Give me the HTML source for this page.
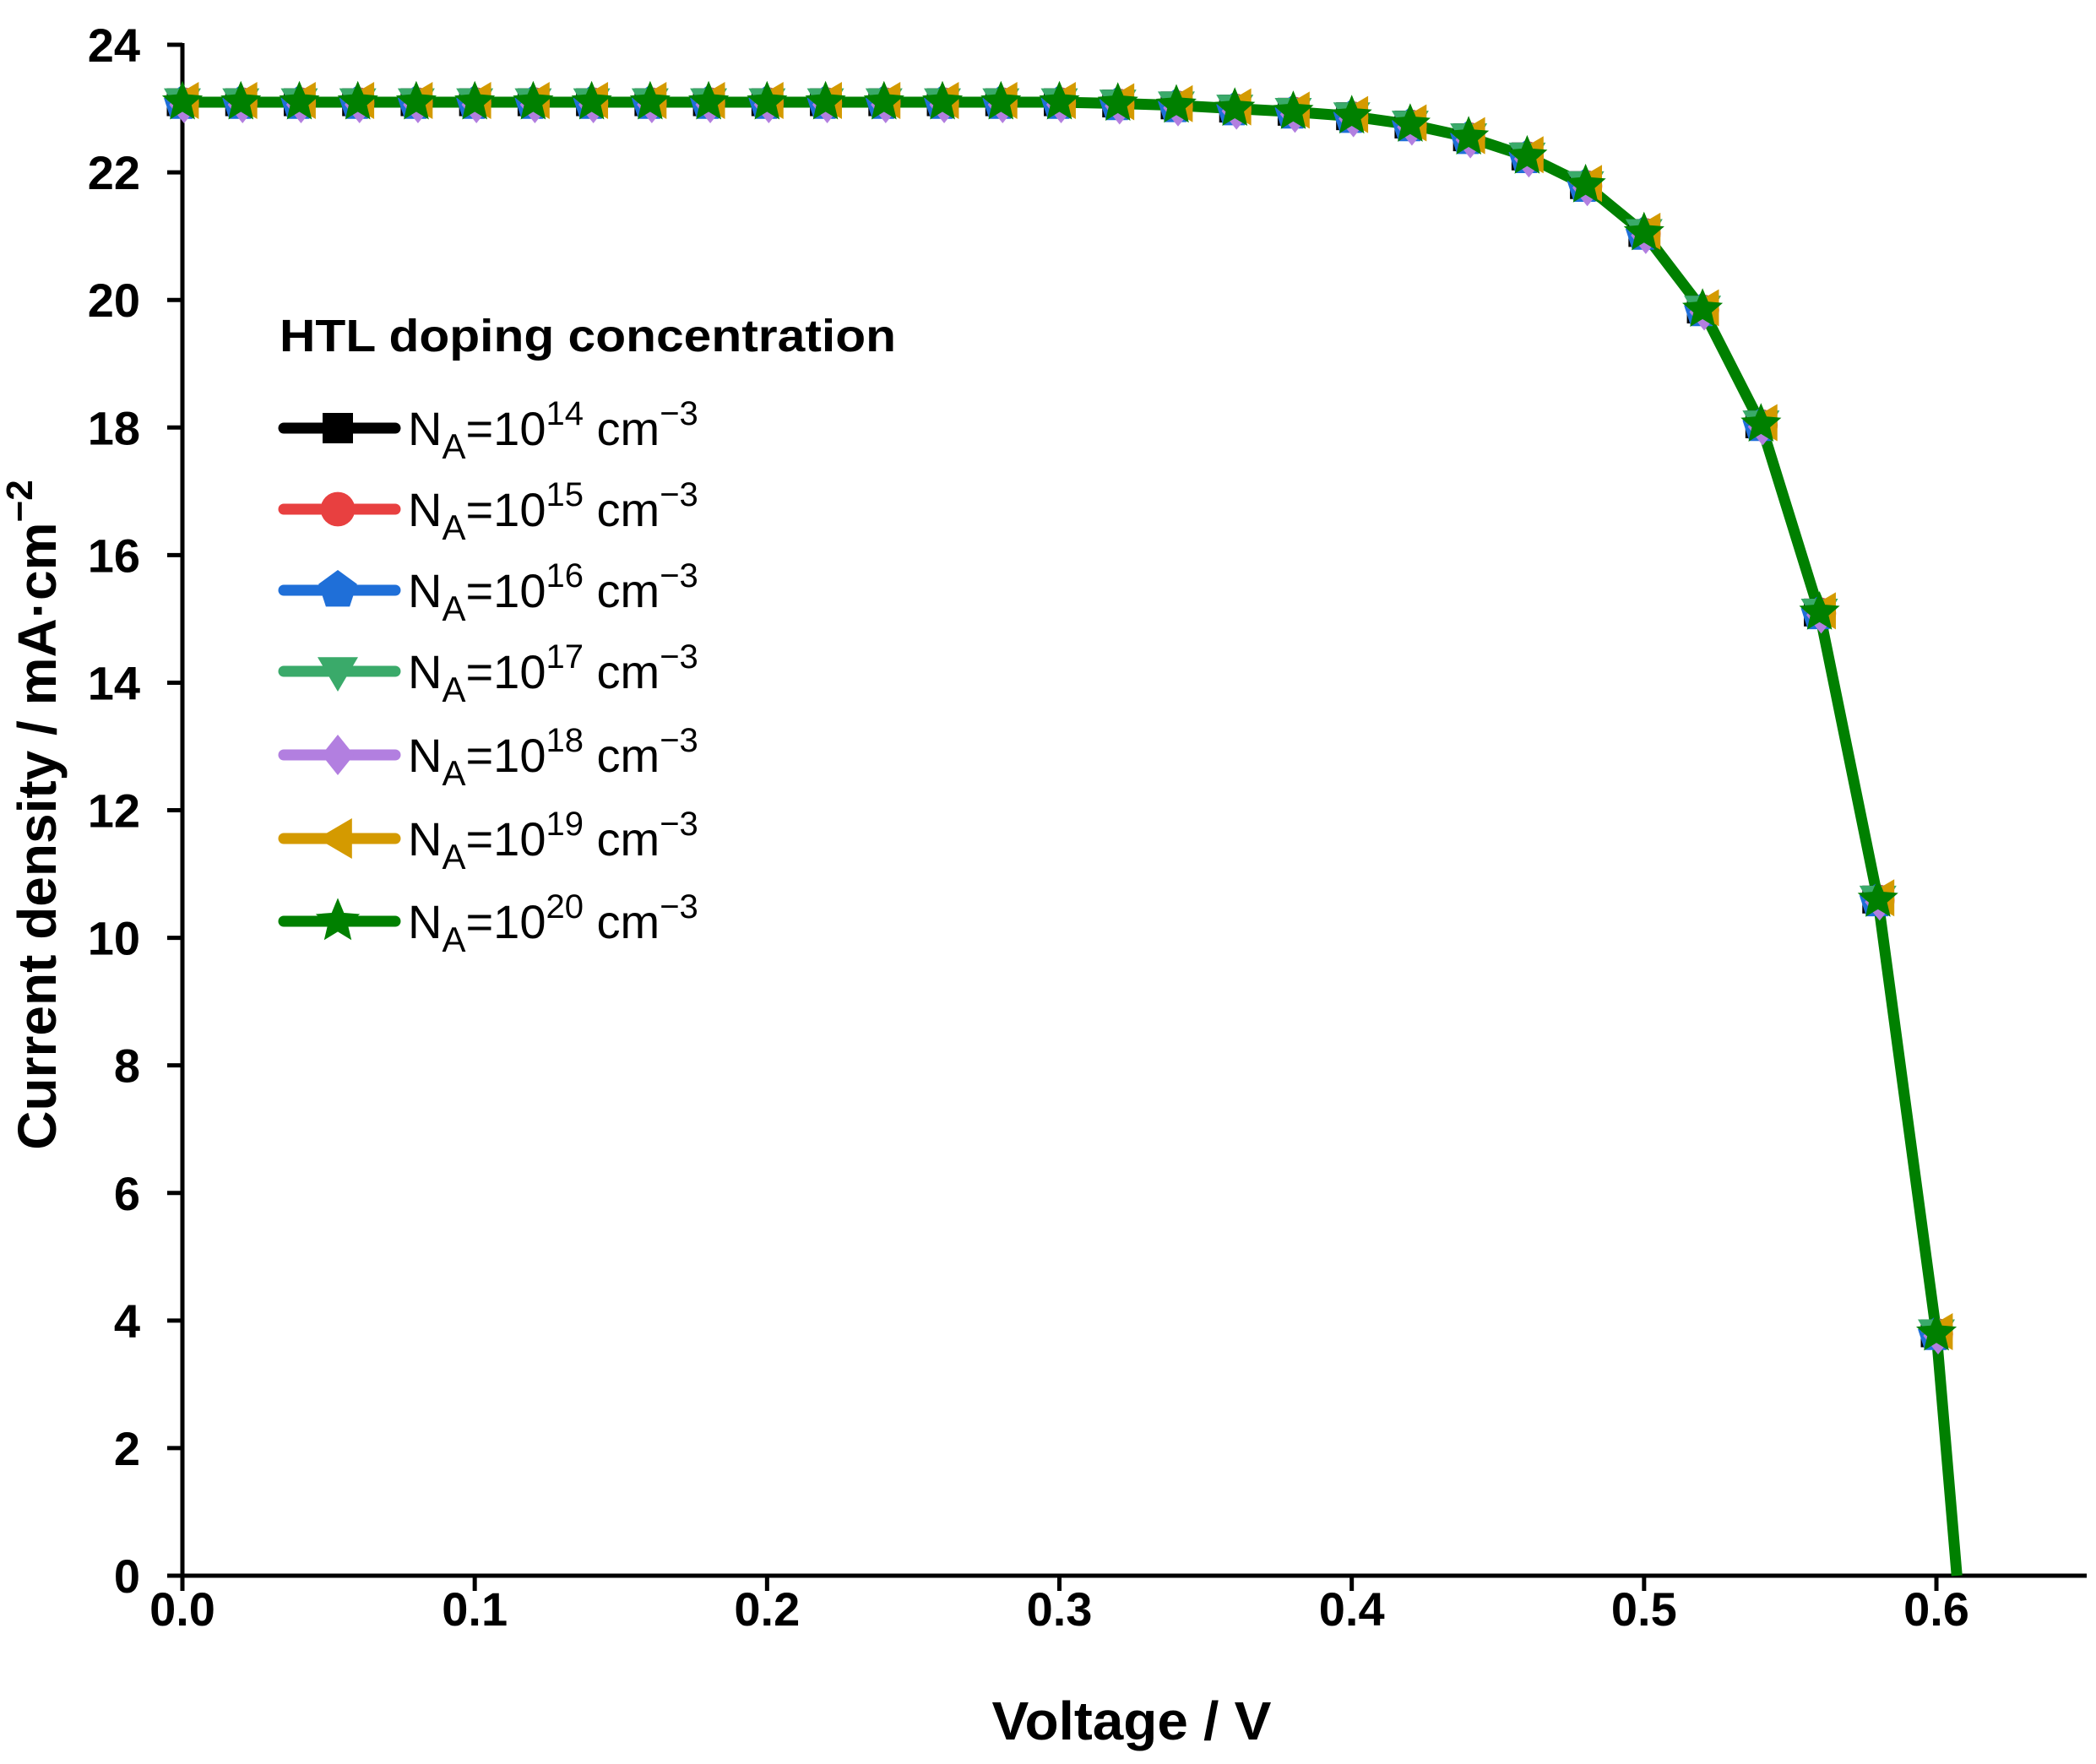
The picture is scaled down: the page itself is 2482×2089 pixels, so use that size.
<!DOCTYPE html>
<html><head><meta charset="utf-8"><style>
html,body{margin:0;padding:0;background:#fff;}
svg{display:block;}
text{font-family:"Liberation Sans",Arial,sans-serif;}
</style></head><body>
<svg id="s" width="2482" height="2089" viewBox="0 0 2482 2089" xmlns="http://www.w3.org/2000/svg"></svg>
<script>
const s=document.getElementById('s');
const X0=216,XS=3461.7,Y0=1866,YS=75.54;
const px=v=>X0+v*XS, py=j=>Y0-j*YS;
let h='';
h+=`<line x1="${X0}" y1="${Y0}" x2="2471" y2="${Y0}" stroke="#000" stroke-width="5"/>`;
h+=`<line x1="${X0}" y1="${Y0+2}" x2="${X0}" y2="51" stroke="#000" stroke-width="5"/>`;
for(let j=0;j<=24;j+=2){const y=py(j);h+=`<line x1="${X0-18}" y1="${y}" x2="${X0}" y2="${y}" stroke="#000" stroke-width="5"/>`;
h+=`<text x="166" y="${y+20}" font-size="56" font-weight="bold" text-anchor="end">${j}</text>`;}
for(let i=0;i<=6;i++){const x=px(i/10);h+=`<line x1="${x}" y1="${Y0}" x2="${x}" y2="${Y0+18}" stroke="#000" stroke-width="5"/>`;
h+=`<text x="${x}" y="1925" font-size="56" font-weight="bold" text-anchor="middle">${(i/10).toFixed(1)}</text>`;}
h+=`<text x="1340" y="2060" font-size="64" font-weight="bold" text-anchor="middle" textLength="331" lengthAdjust="spacingAndGlyphs">Voltage / V</text>`;
h+=`<text transform="translate(66,965) rotate(-90)" font-size="64" font-weight="bold" text-anchor="middle">Current density / mA·cm<tspan dy="-28" font-size="44">−2</tspan></text>`;
const V=[],J=[];
const vals=[23.1,23.1,23.1,23.1,23.1,23.1,23.1,23.1,23.1,23.1,23.1,23.1,23.1,23.1,23.1,23.1,23.08,23.05,23.0,22.95,22.88,22.75,22.55,22.25,21.8,21.05,19.85,18.05,15.1,10.6,3.8];
vals.forEach((j,i)=>{V.push(i*0.02);J.push(j);});
let pts=V.map((v,i)=>px(v)+','+py(J[i])).join(' ')+' '+px(0.607)+','+Y0;
const cols=['#000','#e84040','#1f6fd8','#3aaa6a','#b27fe0','#d49a00','#008000'];
function star(cx,cy,r){let p=[];for(let k=0;k<10;k++){const a=-Math.PI/2+k*Math.PI/5;const rr=k%2?r*0.45:r;p.push((cx+rr*Math.cos(a)).toFixed(1)+','+(cy+rr*Math.sin(a)).toFixed(1));}return p.join(' ');}
function marker(t,x,y,c,r){
 if(t==0)return `<rect x="${x-r*0.75}" y="${y-r*0.75}" width="${r*1.5}" height="${r*1.5}" fill="${c}"/>`;
 if(t==1)return `<circle cx="${x}" cy="${y}" r="${r*0.85}" fill="${c}"/>`;
 if(t==2){let p=[];for(let k=0;k<5;k++){const a=-Math.PI/2+k*2*Math.PI/5;p.push((x+r*Math.cos(a)).toFixed(1)+','+(y+r*Math.sin(a)).toFixed(1));}return `<polygon points="${p.join(' ')}" fill="${c}"/>`;}
 if(t==3)return `<polygon points="${x-r},${y-r*0.7} ${x+r},${y-r*0.7} ${x},${y+r}" fill="${c}"/>`;
 if(t==4)return `<polygon points="${x},${y-r} ${x+r*0.8},${y} ${x},${y+r} ${x-r*0.8},${y}" fill="${c}"/>`;
 if(t==5)return `<polygon points="${x-r},${y} ${x+r*0.7},${y-r} ${x+r*0.7},${y+r}" fill="${c}"/>`;
 return `<polygon points="${star(x,y,r*1.15)}" fill="${c}"/>`;
}
h+=`<polyline points="${pts}" fill="none" stroke="#008000" stroke-width="13" stroke-linejoin="round"/>`;
V.forEach((v,i)=>{const x=px(v),y=py(J[i]);for(let t=0;t<7;t++){const dx=[-2,1,-1,0,2,4,0][t];h+=marker(t,x+dx,y+[0,1,2,-1,3,-2,0][t],cols[t],22);}});
h+=`<text x="331" y="416" font-size="54" font-weight="bold" textLength="730" lengthAdjust="spacingAndGlyphs">HTL doping concentration</text>`;
const ly=[507,603,699,795,894,993,1091],ex=[14,15,16,17,18,19,20];
ly.forEach((y,t)=>{h+=`<line x1="336" y1="${y}" x2="468" y2="${y}" stroke="${cols[t]}" stroke-width="13" stroke-linecap="round"/>`;
h+=marker(t,400,y,cols[t],24);
h+=`<text x="483" y="${y+20}" font-size="56">N<tspan dy="16" font-size="42">A</tspan><tspan dy="-16">=10</tspan><tspan dy="-24" font-size="40">${ex[t]}</tspan><tspan dy="24"> cm</tspan><tspan dy="-24" font-size="40">−3</tspan></text>`;});
s.innerHTML=h;
</script>
</body></html>
